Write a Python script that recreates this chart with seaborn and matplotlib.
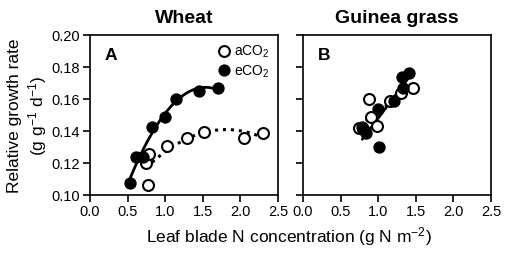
import matplotlib
matplotlib.use("Agg")
import matplotlib.pyplot as plt
from matplotlib.lines import Line2D
import numpy as np
import pandas as pd
import seaborn as sns

# wheat (panel A)
wheat_a_n = [0.77, 0.75, 0.78, 1.02, 1.29, 1.51, 2.05, 2.30]
wheat_a_rgr = [0.106, 0.120, 0.1256, 0.1306, 0.1354, 0.1396, 0.1354, 0.1386]
wheat_e_n = [0.53, 0.61, 0.71, 0.82, 1.00, 1.14, 1.45, 1.70]
wheat_e_rgr = [0.1077, 0.1236, 0.1236, 0.1427, 0.149, 0.160, 0.165, 0.1667]

# guinea grass (panel B)
guinea_a_n = [0.75, 0.88, 0.90, 0.98, 1.16, 1.31, 1.47, 0.80]
guinea_a_rgr = [0.142, 0.160, 0.1486, 0.1433, 0.159, 0.1636, 0.1667, 0.141]
guinea_e_n = [0.79, 0.84, 1.00, 1.01, 1.21, 1.33, 1.32, 1.41]
guinea_e_rgr = [0.1427, 0.1386, 0.1538, 0.130, 0.159, 0.1667, 0.174, 0.1765]

x_ticks = [0.0, 0.5, 1.0, 1.5, 2.0, 2.5]
y_ticks = [0.10, 0.12, 0.14, 0.16, 0.18, 0.20]

sns.set_style("ticks")
plt.rcParams["font.family"] = ["Liberation Sans", "DejaVu Sans"]
plt.rcParams["mathtext.fontset"] = "custom"
plt.rcParams["mathtext.rm"] = "Liberation Sans"
plt.rcParams["mathtext.it"] = "Liberation Sans:italic"
plt.rcParams["mathtext.default"] = "regular"
for k in ["text.color", "axes.labelcolor", "xtick.color", "ytick.color",
          "axes.edgecolor"]:
    plt.rcParams[k] = "black"

fig = plt.figure(figsize=(5.1, 2.54), dpi=100)
ax_a = fig.add_axes([0.1765, 0.232, 0.3686, 0.630])
ax_b = fig.add_axes([0.594, 0.232, 0.3686, 0.630])


def fit_line(ax, xs, ys, deg, ls):
    coef = np.polyfit(xs, ys, deg)
    xx = np.linspace(min(xs), max(xs), 100)
    sns.lineplot(x=xx, y=np.polyval(coef, xx), ax=ax, color="black",
                 linestyle=ls, linewidth=2.0 if ls == "-" else 2.2, zorder=1)


def panel(ax, a_n, a_rgr, e_n, e_rgr, deg, title, letter):
    fit_line(ax, a_n, a_rgr, deg, (0, (1, 1.6)))
    fit_line(ax, e_n, e_rgr, deg, "-")
    sns.scatterplot(x=a_n, y=a_rgr, ax=ax, s=62, facecolor="white",
                    edgecolor="black", linewidth=1.5, zorder=3)
    sns.scatterplot(x=e_n, y=e_rgr, ax=ax, s=62, color="black",
                    edgecolor="black", linewidth=1.0, zorder=4)
    ax.set_xlim(0, 2.5)
    ax.set_ylim(0.10, 0.20)
    ax.set_xticks(x_ticks)
    ax.set_yticks(y_ticks)
    ax.set_xticklabels([f"{t:.1f}" for t in x_ticks])
    for s in ax.spines.values():
        s.set_linewidth(1.2)
        s.set_color("black")
        s.set_visible(True)
    ax.tick_params(direction="out", length=5, width=1.2, labelsize=10.5,
                   colors="black", pad=2)
    ax.set_title(title, fontsize=14, fontweight="bold", pad=9)
    ax.text(0.08, 0.92, letter, transform=ax.transAxes, fontsize=12.5,
            fontweight="bold", va="top", ha="left")


panel(ax_a, wheat_a_n, wheat_a_rgr, wheat_e_n, wheat_e_rgr, 2, "Wheat", "A")
panel(ax_b, guinea_a_n, guinea_a_rgr, guinea_e_n, guinea_e_rgr, 1,
      "Guinea grass", "B")
ax_a.set_yticklabels([f"{t:.2f}" for t in y_ticks])
ax_b.set_yticklabels([])

handles = [
    Line2D([], [], marker="o", linestyle="", markersize=7.8,
           markerfacecolor="white", markeredgecolor="black", markeredgewidth=1.5),
    Line2D([], [], marker="o", linestyle="", markersize=7.8,
           markerfacecolor="black", markeredgecolor="black"),
]
ax_a.legend(handles, ["aCO$_2$", "eCO$_2$"], loc="upper right", frameon=False,
            fontsize=10, handletextpad=0.1, borderaxespad=0.2, labelspacing=0.25,
            handlelength=1.2)

fig.text(0.028, 0.545, "Relative growth rate", rotation=90, ha="center",
         va="center", fontsize=12.5)
fig.text(0.073, 0.545, "(g g$^{-1}$ d$^{-1}$)", rotation=90, ha="center",
         va="center", fontsize=12.5)
fig.text(0.567, 0.025, "Leaf blade N concentration (g N m$^{-2}$)",
         ha="center", va="bottom", fontsize=12.5)

fig.savefig("out.png", dpi=100)
